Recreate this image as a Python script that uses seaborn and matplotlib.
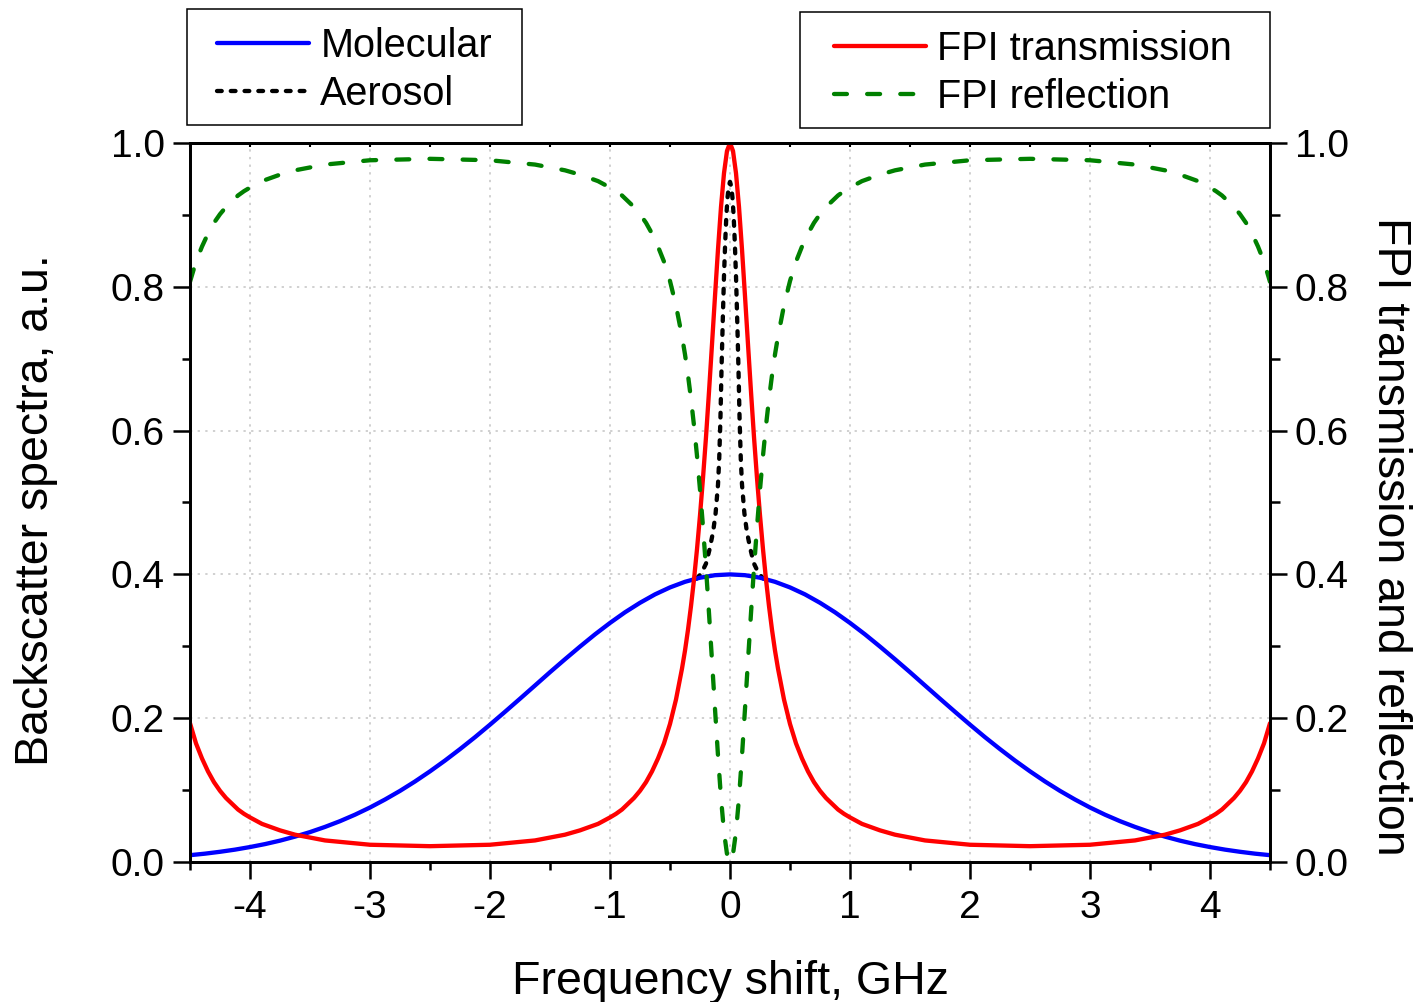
import numpy as np
import pandas as pd
import matplotlib
matplotlib.use("Agg")
import matplotlib.pyplot as plt
import seaborn as sns
from matplotlib.ticker import MultipleLocator, FormatStrFormatter
from matplotlib.patches import Rectangle

# ---------------- data ----------------
mol_x = [-4.5, -4.375, -4.25, -4.125, -4.0, -3.875, -3.75, -3.625, -3.5, -3.375, -3.25,
         -3.125, -3.0, -2.875, -2.75, -2.625, -2.5, -2.375, -2.25, -2.125, -2.0, -1.875,
         -1.75, -1.625, -1.5, -1.375, -1.25, -1.125, -1.0, -0.875, -0.75, -0.625, -0.5,
         -0.375, -0.25, -0.125, 0.0, 0.125, 0.25, 0.375, 0.5, 0.625, 0.75, 0.875, 1.0,
         1.125, 1.25, 1.375, 1.5, 1.625, 1.75, 1.875, 2.0, 2.125, 2.25, 2.375, 2.5, 2.625,
         2.75, 2.875, 3.0, 3.125, 3.25, 3.375, 3.5, 3.625, 3.75, 3.875, 4.0, 4.125, 4.25,
         4.375, 4.5]
mol_y = [0.0095, 0.0116, 0.0142, 0.0172, 0.0208, 0.0249, 0.0297, 0.0353, 0.0416, 0.0488,
         0.0568, 0.0658, 0.0758, 0.0869, 0.0989, 0.1120, 0.1261, 0.1411, 0.1570, 0.1736,
         0.1910, 0.2089, 0.2271, 0.2455, 0.2640, 0.2820, 0.2996, 0.3166, 0.3325, 0.3473,
         0.3605, 0.3722, 0.3819, 0.3897, 0.3954, 0.3989, 0.4000, 0.3989, 0.3954, 0.3897,
         0.3819, 0.3722, 0.3605, 0.3473, 0.3325, 0.3166, 0.2996, 0.2820, 0.2640, 0.2455,
         0.2271, 0.2089, 0.1910, 0.1736, 0.1570, 0.1411, 0.1261, 0.1120, 0.0989, 0.0869,
         0.0758, 0.0658, 0.0568, 0.0488, 0.0416, 0.0353, 0.0297, 0.0249, 0.0208, 0.0172,
         0.0142, 0.0116, 0.0095]

aer_x = [-0.28, -0.24, -0.20, -0.17, -0.14, -0.12, -0.10, -0.09, -0.08, -0.07, -0.06,
         -0.05, -0.04, -0.03, -0.02, -0.01, 0.0, 0.01, 0.02, 0.03, 0.04, 0.05, 0.06,
         0.07, 0.08, 0.09, 0.10, 0.12, 0.14, 0.17, 0.20, 0.24, 0.28]
aer_y = [0.394, 0.401, 0.415, 0.435, 0.460, 0.485, 0.525, 0.560, 0.615, 0.690, 0.755,
         0.815, 0.862, 0.900, 0.925, 0.940, 0.946, 0.940, 0.925, 0.900, 0.862, 0.815,
         0.755, 0.690, 0.615, 0.560, 0.525, 0.485, 0.460, 0.435, 0.415, 0.401, 0.394]

fpi_x = [-4.5, -4.45, -4.4, -4.35, -4.3, -4.25, -4.2, -4.15, -4.1, -4.05, -4.0, -3.9,
         -3.75, -3.625, -3.5, -3.375, -3.25, -3.0, -2.75, -2.5, -2.25, -2.0, -1.75,
         -1.625, -1.5, -1.375, -1.25, -1.1, -1.0, -0.95, -0.9, -0.85, -0.8, -0.75, -0.7,
         -0.65, -0.6, -0.55, -0.5, -0.45, -0.4, -0.375, -0.35, -0.325, -0.3, -0.275,
         -0.25, -0.225, -0.2, -0.175, -0.15, -0.125, -0.1, -0.075, -0.05, -0.025,
         0.0,
         0.025, 0.05, 0.075, 0.1, 0.125, 0.15, 0.175, 0.2, 0.225, 0.25, 0.275, 0.3,
         0.325, 0.35, 0.375, 0.4, 0.45, 0.5, 0.55, 0.6, 0.65, 0.7, 0.75, 0.8, 0.85, 0.9,
         0.95, 1.0, 1.1, 1.25, 1.375, 1.5, 1.625, 1.75, 2.0, 2.25, 2.5, 2.75, 3.0, 3.25,
         3.375, 3.5, 3.625, 3.75, 3.9, 4.0, 4.05, 4.1, 4.15, 4.2, 4.25, 4.3, 4.35, 4.4,
         4.45, 4.5]
trans_y = [0.193, 0.165, 0.144, 0.126, 0.111, 0.099, 0.089, 0.081, 0.073, 0.067, 0.062,
           0.053, 0.044, 0.038, 0.034, 0.030, 0.028, 0.024, 0.023, 0.022, 0.023, 0.024,
           0.028, 0.030, 0.034, 0.038, 0.044, 0.053, 0.062, 0.067, 0.073, 0.081, 0.089,
           0.099, 0.111, 0.126, 0.144, 0.165, 0.192, 0.226, 0.269, 0.294, 0.323, 0.356,
           0.393, 0.435, 0.482, 0.534, 0.591, 0.654, 0.720, 0.787, 0.852, 0.911, 0.958,
           0.989,
           1.000,
           0.989, 0.958, 0.911, 0.852, 0.787, 0.720, 0.654, 0.591, 0.534, 0.482, 0.435,
           0.393, 0.356, 0.323, 0.294, 0.269, 0.226, 0.192, 0.165, 0.144, 0.126, 0.111,
           0.099, 0.089, 0.081, 0.073, 0.067, 0.062, 0.053, 0.044, 0.038, 0.034, 0.030,
           0.028, 0.024, 0.023, 0.022, 0.023, 0.024, 0.028, 0.030, 0.034, 0.038, 0.044,
           0.053, 0.062, 0.067, 0.073, 0.081, 0.089, 0.099, 0.111, 0.126, 0.144, 0.165,
           0.193]
refl_y = [0.807, 0.835, 0.856, 0.874, 0.889, 0.901, 0.911, 0.919, 0.927, 0.933, 0.938,
          0.947, 0.956, 0.962, 0.966, 0.970, 0.972, 0.976, 0.977, 0.978, 0.977, 0.976,
          0.972, 0.970, 0.966, 0.962, 0.956, 0.947, 0.938, 0.933, 0.927, 0.919, 0.911,
          0.901, 0.889, 0.874, 0.856, 0.835, 0.808, 0.774, 0.731, 0.706, 0.677, 0.644,
          0.607, 0.565, 0.518, 0.466, 0.409, 0.346, 0.280, 0.213, 0.148, 0.089, 0.042,
          0.011,
          0.000,
          0.011, 0.042, 0.089, 0.148, 0.213, 0.280, 0.346, 0.409, 0.466, 0.518, 0.565,
          0.607, 0.644, 0.677, 0.706, 0.731, 0.774, 0.808, 0.835, 0.856, 0.874, 0.889,
          0.901, 0.911, 0.919, 0.927, 0.933, 0.938, 0.947, 0.956, 0.962, 0.966, 0.970,
          0.972, 0.976, 0.977, 0.978, 0.977, 0.976, 0.972, 0.970, 0.966, 0.962, 0.956,
          0.947, 0.938, 0.933, 0.927, 0.919, 0.911, 0.901, 0.889, 0.874, 0.856, 0.835,
          0.807]

x_ticks = [-4, -3, -2, -1, 0, 1, 2, 3, 4]
y_ticks = [0.0, 0.2, 0.4, 0.6, 0.8, 1.0]

left_labels = ["Molecular", "Aerosol"]
right_labels = ["FPI transmission", "FPI reflection"]
xlabel = "Frequency shift, GHz"
ylabel_left = "Backscatter spectra, a.u."
ylabel_right = "FPI transmission and reflection"

# ---------------- style ----------------
sns.set_theme(style="white")
plt.rcParams["font.family"] = ["Liberation Sans", "DejaVu Sans"]
plt.rcParams["axes.unicode_minus"] = False
for k in ("text.color", "axes.labelcolor", "xtick.color", "ytick.color"):
    plt.rcParams[k] = "black"

W, H = 1423, 1002
fig = plt.figure(figsize=(W / 100, H / 100), dpi=100)
fig.patch.set_facecolor("white")
ax = fig.add_axes([190 / W, (H - 862) / H, 1080 / W, 719 / H])
ax2 = ax.twinx()

LW = 3.1
sns.lineplot(x=aer_x, y=aer_y, ax=ax, color="black", linewidth=LW,
             linestyle=(0, (1.1, 2.1)), dash_capstyle="round", legend=False)
sns.lineplot(x=mol_x, y=mol_y, ax=ax, color="#0000ff", linewidth=LW, legend=False)
sns.lineplot(x=fpi_x, y=trans_y, ax=ax2, color="#ff0000", linewidth=LW, legend=False)
sns.lineplot(x=fpi_x, y=refl_y, ax=ax2, color="#008000", linewidth=LW,
             linestyle=(0, (3.0, 4.7)), dash_capstyle="round", legend=False)

line_aer, line_mol = ax.lines[0], ax.lines[1]
line_tr, line_rf = ax2.lines[0], ax2.lines[1]

for a in (ax, ax2):
    a.set_xlim(-4.5, 4.5)
    a.set_ylim(0, 1)
    for s in a.spines.values():
        s.set_color("black")
        s.set_linewidth(2.0)

ax.set_xticks(x_ticks)
ax.xaxis.set_major_formatter(FormatStrFormatter("%d"))
ax.xaxis.set_minor_locator(MultipleLocator(0.5))
ax.set_yticks(y_ticks)
ax.yaxis.set_major_formatter(FormatStrFormatter("%.1f"))
ax.yaxis.set_minor_locator(MultipleLocator(0.1))
ax2.set_yticks(y_ticks)
ax2.yaxis.set_major_formatter(FormatStrFormatter("%.1f"))
ax2.yaxis.set_minor_locator(MultipleLocator(0.1))

ax.tick_params(axis="both", which="major", direction="out", length=12, width=1.8,
               color="black", labelsize=28, labelcolor="black")
ax.tick_params(axis="both", which="minor", direction="out", length=6, width=1.8,
               color="black")
ax.tick_params(axis="x", which="major", pad=8)
ax.tick_params(axis="y", which="major", pad=6)
ax.tick_params(left=True, bottom=True, which="both")
ax2.tick_params(axis="y", which="major", direction="out", length=12, width=1.8,
                color="black", labelsize=28, labelcolor="black", pad=6, right=True)
ax2.tick_params(axis="y", which="minor", direction="out", length=7, width=1.8,
                color="black", right=True)

sec = ax.secondary_xaxis("top")
sec.xaxis.set_major_locator(MultipleLocator(1))
sec.xaxis.set_minor_locator(MultipleLocator(0.5))
sec.tick_params(axis="x", which="both", direction="in", length=3, width=1.5,
                labeltop=False, top=True)
sec.spines["top"].set_linewidth(2.0)

ax.grid(True, which="major", color="#c4c4c4", linestyle=(0, (1.5, 3.5)), linewidth=1.1)
ax2.grid(False)
ax.set_xlabel("")
ax.set_ylabel("")
ax2.set_ylabel("")

# axis titles
fig.text(730 / W, (H - 994) / H, xlabel, ha="center", va="baseline", fontsize=33.5)
fig.text(48 / W, (H - 510) / H, ylabel_left, ha="center", va="baseline",
         rotation=90, rotation_mode="anchor", fontsize=33.5)
fig.text(1378 / W, (H - 536) / H, ylabel_right, ha="center", va="baseline",
         rotation=270, rotation_mode="anchor", fontsize=33.5)

# legends
leg_kw = dict(loc="upper left", frameon=False, borderpad=0, borderaxespad=0,
              handlelength=2.33, handletextpad=0.28, labelspacing=0.25,
              fontsize=28.5, labelcolor="black")
fig.legend([line_mol, line_aer], left_labels,
           bbox_to_anchor=(217 / W, 1 - 27 / H), **leg_kw)
fig.legend([line_tr, line_rf], right_labels,
           bbox_to_anchor=(834 / W, 1 - 30 / H), **leg_kw)

for (x0, y0, x1, y1) in [(187, 9, 522, 125), (800, 12, 1270, 128)]:
    fig.patches.append(Rectangle((x0 / W, 1 - y1 / H), (x1 - x0) / W, (y1 - y0) / H,
                                 transform=fig.transFigure, fill=False,
                                 edgecolor="black", linewidth=1.1))

fig.savefig("out.png", dpi=100)
